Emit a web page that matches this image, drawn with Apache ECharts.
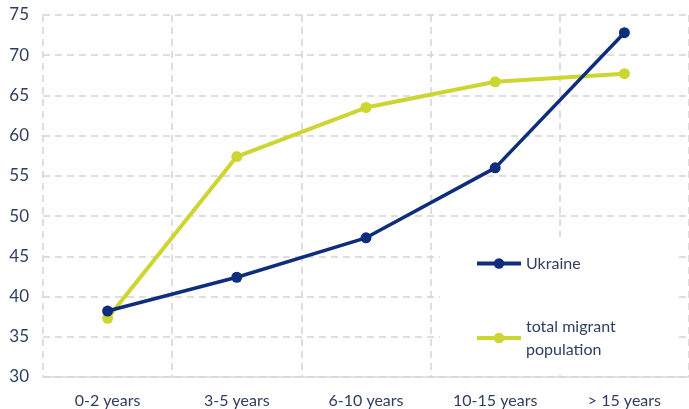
<!DOCTYPE html>
<html>
<head>
<meta charset="utf-8">
<script src="https://cdn.jsdelivr.net/npm/echarts@6/dist/echarts.min.js"></script>
<style>
  html, body { margin: 0; padding: 0; background: #fff; }
  #chart { width: 689px; height: 409px; }
</style>
</head>
<body>
<div id="chart"></div>
<script>
const categories = ["0-2 years", "3-5 years", "6-10 years", "10-15 years", "> 15 years"];
const ukraine = [38.2, 42.4, 47.3, 56.0, 72.8];
const totalMigrant = [37.3, 57.4, 63.5, 66.7, 67.7];
const yTicks = [30, 35, 40, 45, 50, 55, 60, 65, 70, 75];

const gridLine = { color: "#d4d4d4", width: 1.5, type: [7, 5] };
const labelColor = "#2f3d5e";

const chart = echarts.init(document.getElementById("chart"));
chart.setOption({
  animation: false,
  grid: { left: 43, right: -3, top: 15, bottom: 32 },
  legend: {
    orient: "vertical",
    left: 440,
    top: 237,
    width: 215,
    padding: [15, 60, 14, 35],
    backgroundColor: "#fff",
    itemWidth: 44,
    itemHeight: 13,
    itemGap: 40,
    lineStyle: { width: 4 },
    textStyle: { color: labelColor, fontFamily: "Lato", fontSize: 16, lineHeight: 23 },
    data: ["Ukraine", "total migrant population"],
    formatter: n => n === "total migrant population" ? "total migrant\npopulation" : n
  },
  xAxis: {
    type: "category",
    data: categories,
    boundaryGap: true,
    axisLine: { lineStyle: { color: "#d9d9d9", width: 1.5 } },
    axisTick: { show: false },
    axisLabel: { color: labelColor, fontFamily: "Lato", fontSize: 16, margin: 16 },
    splitLine: { show: true, lineStyle: gridLine }
  },
  yAxis: {
    type: "value",
    min: yTicks[0],
    max: yTicks[yTicks.length - 1],
    interval: 5,
    axisLine: { show: false },
    axisTick: { show: false },
    axisLabel: { color: labelColor, fontFamily: "Lato", fontSize: 17, margin: 14 },
    splitLine: { show: true, lineStyle: gridLine }
  },
  series: [
    {
      name: "total migrant population",
      type: "line",
      data: totalMigrant,
      symbol: "circle",
      symbolSize: 11,
      lineStyle: { color: "#cdd631", width: 4 },
      itemStyle: { color: "#cdd631" }
    },
    {
      name: "Ukraine",
      type: "line",
      data: ukraine,
      symbol: "circle",
      symbolSize: 11,
      lineStyle: { color: "#0f2d7d", width: 3.5 },
      itemStyle: { color: "#0f2d7d" }
    }
  ]
});
</script>
</body>
</html>
